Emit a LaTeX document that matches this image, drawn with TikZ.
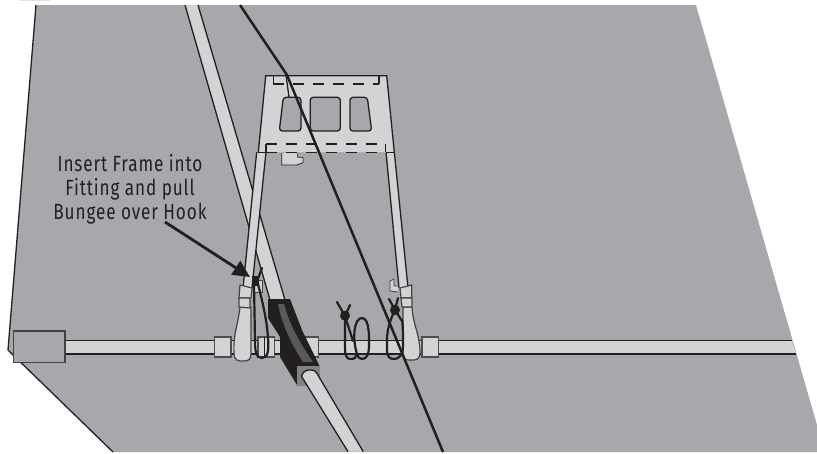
\documentclass[tikz,border=0pt]{standalone}
\usepackage{fontspec}
\setmainfont{Fira Sans}[FakeStretch=0.78,LetterSpace=4]
\usetikzlibrary{arrows.meta,positioning}
\definecolor{deckgrey}{RGB}{167,168,171}
\definecolor{tubegrey}{RGB}{209,211,212}
\definecolor{inkblack}{RGB}{35,31,32}
\definecolor{endgrey}{RGB}{128,130,133}
\definecolor{stripgrey}{RGB}{88,89,91}

\begin{document}
\begin{tikzpicture}[x=1pt,y=-1pt,every node/.style={font=\fontsize{22}{24}\selectfont,text=inkblack},
  edge/.style={draw=inkblack,line width=1.3pt},
  thin edge/.style={draw=inkblack,line width=.8pt},
  tubefill/.style={fill=tubegrey},
  part/.style={fill=tubegrey,draw=inkblack!85,line width=1.2pt,line join=round},
  fitting/.style={fill=tubegrey,draw=inkblack!80,line width=1.1pt},
  cord/.style={draw=inkblack,line width=2.2pt,line cap=round},
  knot/.style={fill=inkblack},
  dashrow/.style={draw=inkblack,line width=1.1pt,dash pattern=on 11pt off 9pt},
  wire/.style={draw=inkblack,line width=2.5pt},
  callout/.style={draw=inkblack,line width=2.8pt,-{Triangle[length=17pt,width=16pt]}}]
\useasboundingbox (0,0) rectangle (817,453);

% deck
\fill[deckgrey] (36,5)--(696,5)--(817,425)--(817,452)--(113,452)--(8,350)--cycle;
\draw[edge] (36,5)--(8,350)--(113,452);
\fill[inkblack] (19,0) arc[start angle=180,end angle=360,x radius=15.5,y radius=2];

% long pole, upper part
\fill[tubefill] (185,5)--(198,5)--(285,300)--(270,300)--cycle;
\draw[edge] (185,5)--(270,300) (198,5)--(285,300);

% cross tube
\fill[tubefill] (65,341)--(792,341)--(796,354)--(65,354)--cycle;
\draw[edge] (65,340.5)--(792,340.5) (65,354)--(796,354);
\draw[fill=deckgrey,draw=inkblack!85,line width=1.1pt] (13.5,331) rectangle (65,362.5);
\foreach \x in {214.5,258,302,422}
  \draw[fitting] (\x,337) rectangle +(16.5,20);
\draw[inkblack,line width=.8pt] (258,337) ++(6,0)--+(0,20);

% frame legs
\fill[tubefill] (256.7,152)--(266,152)--(252,288)--(243,288)--cycle;
\draw[edge] (256.7,152)--(243,288) (266,152)--(252,288);
\fill[tubefill] (386,152)--(394.3,152)--(408,288)--(399,288)--cycle;
\draw[edge] (386,152)--(399,288) (394.3,152)--(408,288);

% frame
\fill[tubefill] (265.7,75.7)--(386.7,75.7)--(394.3,152.3)--(258.3,152.3)--cycle;
\draw[edge] (258.3,152.3)--(265.7,75.7)--(386.7,75.7)--(394.3,152.3);
\draw[edge] (258.3,152.3)--(266,152.3) (386,152.3)--(394.3,152.3);
\draw[fill=deckgrey,edge,rounded corners=3pt] (283.3,97.3)--(301,97.3)--(301,131)--(279.3,131)--cycle;
\draw[fill=deckgrey,edge,rounded corners=3pt] (310.3,97.3) rectangle (340.3,131);
\draw[fill=deckgrey,edge,rounded corners=3pt] (350,97.3)--(367.3,97.3)--(371.7,131)--(350,131)--cycle;
\draw[edge] (273.3,76)--(273.3,84) (379,76)--(379,84) (266,144)--(266,152) (385.7,144)--(385.7,152);
\draw[dashrow] (273.3,84)--(379,84);
\draw[dashrow] (266,144)--(385.7,144);
\draw[inkblack!35,line width=.5pt] (266,152.3)--(386,152.3);
\draw[dashrow] (266,152.3)--(385.7,152.3);
\draw[fill=tubegrey,thin edge] (281.7,153)--(281.7,165)--(296.7,165)--(303,162.7)--(303,157.3)--(297.7,157.3)--(297.7,153);

% fittings on the legs
\draw[part] (240,307)..controls (238,325) and (233,335) .. (234,352)..controls (234,361) and (238,361) .. (243,361)
  ..controls (249,361) and (251,360) .. (251,352)--(251,307)--cycle;
\draw[part] (240,285)--(252,288)--(251,298)--(239,298)--cycle;
\draw[part] (239,298)--(250,298)--(250,308)--(239,307)--cycle;
\draw[part] (412,307)..controls (413,325) and (420,335) .. (420,352)..controls (420,360) and (416,360) .. (411,360)
  ..controls (405,360) and (403,360) .. (403,352)--(403,307)--cycle;
\draw[part] (400,288)--(411.7,285)--(411.7,298)--(401,298)--cycle;
\draw[part] (401,298)--(412,298)--(412,307)--(402,307)--cycle;

% hooks and bungee
\draw[part,line width=.8pt] (253,280)--(262,280)--(262,292)--(253,292)--cycle;
\draw[part,line width=.8pt] (398,286)--(394,286)--(394,279)--(390,281)--(390,291)--(398,292);
\draw[cord] (254,284)--(255,340)..controls (255,352) and (256,358) .. (262,358)
  ..controls (268,358) and (269,350) .. (268,338)..controls (267,320) and (262,300) .. (258,284);
\draw[cord] (256,284)--(262,268);
\fill[knot] (251.5,276) rectangle (258.5,286);

\fill[knot] (345,315.7) circle (5);
\draw[cord] (337,302)--(345,316)--(353,341);
\draw[cord] (350,305)--(345,316)--(345,347)..controls (345,357) and (347,359) .. (351,359)
  ..controls (355,359) and (356,357) .. (357,354)..controls (352,338) and (354,318) .. (362,318)
  ..controls (370,318) and (369,340) .. (369,345)..controls (369,354) and (367,359) .. (362,359)
  ..controls (359,359) and (358,357) .. (357,354);
\fill[knot] (395,310) circle (5);
\draw[cord] (389,299)--(395,310)--(402,321);
\draw[cord] (398,298)--(395,310)..controls (390,320) and (387,330) .. (387,340)--(387,350)
  ..controls (387,357) and (390,359) .. (394,359)..controls (399,359) and (403,355) .. (403,345)
  ..controls (403,335) and (403,325) .. (402,320);

% sleeve and pole end
\fill[inkblack] (268,299)--(290,299)--(302,330)--(319.5,366)--(297,366)--(297,385)--(280,357)--(280,337)--(268,318)--cycle;
\fill[stripgrey] (278,304)--(284,304)..controls (290,325) and (298,340) .. (313,362)--(303,362)
  ..controls (292,345) and (282,325) .. (278,304)--cycle;
\fill[endgrey] (297,365.7) rectangle (319.5,385.5);
\fill[tubefill] (301.7,376.7)..controls (302,369) and (314,368) .. (316.7,373)--(363.3,451.7)--(348,451.7)--cycle;
\draw[edge] (348,451.7)--(301.7,376.7)..controls (302,369) and (314,368) .. (316.7,373)--(363.3,451.7);

% main line
\draw[wire] (240,5)--(287,75)--(443,452);
\draw[edge] (286,75)--(289,97);

% callout
\node[align=center] (lbl) at (130,189) {Insert Frame into\\Fitting and pull\\Bungee over Hook};
\coordinate (calloutfoot) at (165,222);
\coordinate (hooktip) at (250,277);
\draw[callout] (calloutfoot)--(hooktip);
\end{tikzpicture}
\end{document}
